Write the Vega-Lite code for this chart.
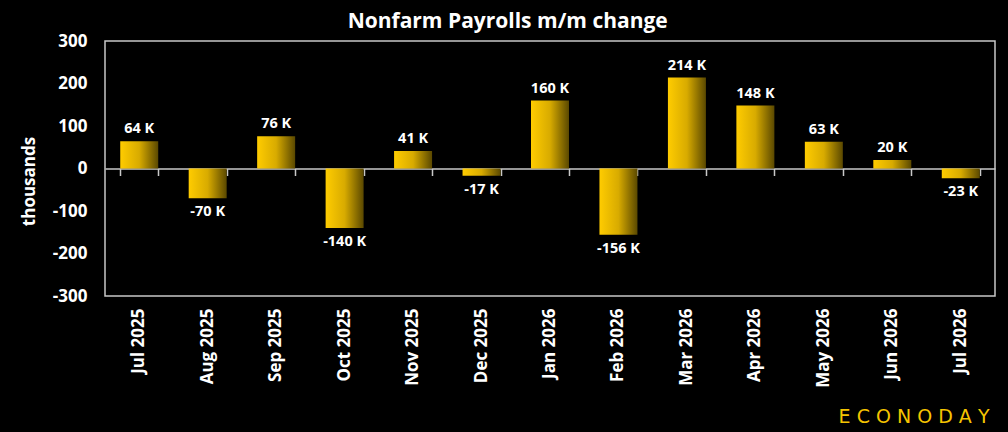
{
  "$schema": "https://vega.github.io/schema/vega-lite/v6.json",
  "background": "black",
  "autosize": {"type": "none"},
  "padding": {"left": 105, "top": 41, "right": 13, "bottom": 136},
  "width": 890,
  "height": 255,
  "config": {
    "font": "Open Sans",
    "view": {"stroke": "#c8c8c8", "strokeWidth": 1.5}
  },
  "title": {
    "text": "Nonfarm Payrolls m/m change",
    "color": "white",
    "font": "Open Sans",
    "fontSize": 21,
    "fontWeight": "bold",
    "anchor": "middle",
    "frame": "bounds",
    "offset": 0
  },
  "data": {
    "values": [
      {"month": "Jul 2025", "value": 64, "label": "64 K"},
      {"month": "Aug 2025", "value": -70, "label": "-70 K"},
      {"month": "Sep 2025", "value": 76, "label": "76 K"},
      {"month": "Oct 2025", "value": -140, "label": "-140 K"},
      {"month": "Nov 2025", "value": 41, "label": "41 K"},
      {"month": "Dec 2025", "value": -17, "label": "-17 K"},
      {"month": "Jan 2026", "value": 160, "label": "160 K"},
      {"month": "Feb 2026", "value": -156, "label": "-156 K"},
      {"month": "Mar 2026", "value": 214, "label": "214 K"},
      {"month": "Apr 2026", "value": 148, "label": "148 K"},
      {"month": "May 2026", "value": 63, "label": "63 K"},
      {"month": "Jun 2026", "value": 20, "label": "20 K"},
      {"month": "Jul 2026", "value": -23, "label": "-23 K"}
    ]
  },
  "resolve": {"axis": {"x": "independent"}},
  "layer": [
    {
      "mark": {
        "type": "bar",
        "color": {
          "gradient": "linear",
          "x1": 0, "x2": 1, "y1": 0, "y2": 0,
          "stops": [
            {"offset": 0, "color": "#ffcc00"},
            {"offset": 0.5, "color": "#d8ab00"},
            {"offset": 1, "color": "#5a4800"}
          ]
        }
      },
      "encoding": {
        "x": {
          "field": "month",
          "type": "nominal",
          "sort": null,
          "scale": {"paddingInner": 0.445, "paddingOuter": 0.2225},
          "axis": {
            "title": "E C O N O D A Y",
            "titleColor": "#f5c400",
            "titleFont": "DejaVu Sans",
            "titleFontSize": 19,
            "titleFontWeight": "normal",
            "titleAlign": "right",
            "titleBaseline": "middle",
            "titleX": 884,
            "titleY": 120,
            "labelAngle": -90,
            "labelAlign": "right",
            "labelBaseline": "middle",
            "labelPadding": 12,
            "labelColor": "white",
            "labelFontSize": 17,
            "labelFontWeight": "bold",
            "domain": false,
            "ticks": false
          }
        },
        "y": {
          "field": "value",
          "type": "quantitative",
          "scale": {"domain": [-300, 300]},
          "axis": {
            "title": "thousands",
            "titleColor": "white",
            "titleFontSize": 17,
            "titleFontWeight": "bold",
            "titlePadding": 14,
            "titleY": 140,
            "values": [-300, -200, -100, 0, 100, 200, 300],
            "labelExpr": "'' + datum.value",
            "labelColor": "white",
            "labelFontSize": 17,
            "labelFontWeight": "bold",
            "labelPadding": 18,
            "ticks": false,
            "domain": false,
            "grid": false
          }
        }
      }
    },
    {
      "mark": {"type": "rule", "opacity": 0},
      "encoding": {
        "x": {
          "field": "month",
          "type": "nominal",
          "sort": null,
          "axis": {
            "title": null,
            "labels": false,
            "orient": "bottom",
            "offset": -127.5,
            "domainColor": "#c8c8c8",
            "domainWidth": 1.5,
            "tickColor": "#c8c8c8",
            "tickWidth": 1.5,
            "tickSize": 7,
            "tickBand": "extent"
          }
        }
      }
    },
    {
      "transform": [{"filter": "datum.value >= 0"}],
      "mark": {"type": "text", "color": "white", "fontSize": 14.5, "fontWeight": "bold", "baseline": "bottom", "dy": -5},
      "encoding": {
        "x": {"field": "month", "type": "nominal", "sort": null, "axis": null},
        "y": {"field": "value", "type": "quantitative"},
        "text": {"field": "label"}
      }
    },
    {
      "transform": [{"filter": "datum.value < 0"}],
      "mark": {"type": "text", "color": "white", "fontSize": 14.5, "fontWeight": "bold", "baseline": "top", "dy": 7},
      "encoding": {
        "x": {"field": "month", "type": "nominal", "sort": null, "axis": null},
        "y": {"field": "value", "type": "quantitative"},
        "text": {"field": "label"}
      }
    }
  ]
}
